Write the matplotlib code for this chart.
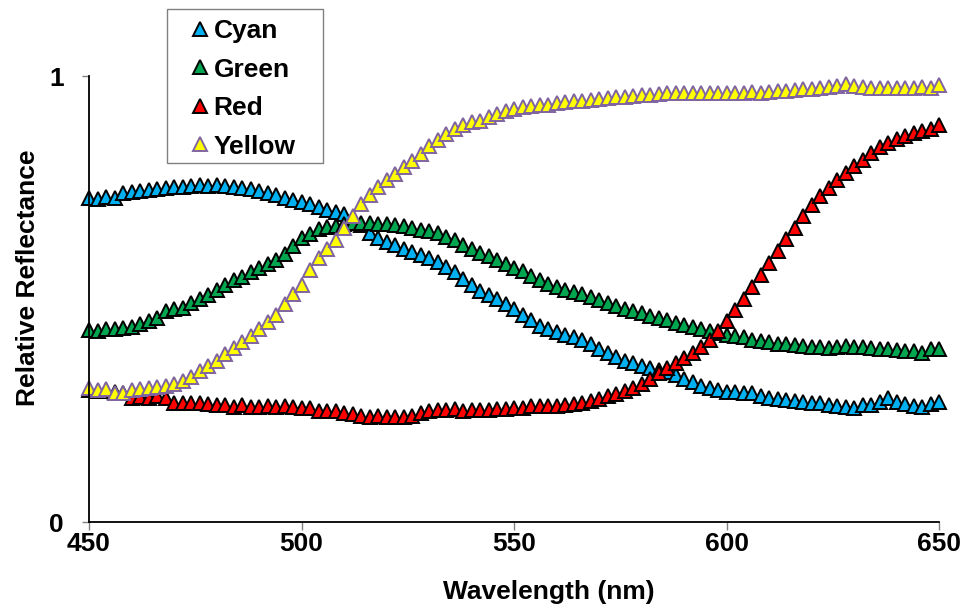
import numpy as np
from matplotlib import pyplot as plt
from matplotlib.patches import Rectangle

plt.rcParams['font.family'] = ['Liberation Sans', 'DejaVu Sans']
plt.rcParams['font.weight'] = 'bold'

# wavelength grid, one sample every 2 nm
wavelength = np.arange(450, 651, 2)

cyan = [
    0.726, 0.724, 0.728, 0.727, 0.737, 0.740, 0.742, 0.745, 0.747, 0.749,
    0.752, 0.752, 0.754, 0.756, 0.754, 0.755, 0.753, 0.752, 0.749, 0.746,
    0.742, 0.738, 0.733, 0.727, 0.722, 0.717, 0.712, 0.706, 0.700, 0.695,
    0.690, 0.678, 0.665, 0.648, 0.637, 0.628, 0.620, 0.612, 0.605, 0.598,
    0.592, 0.583, 0.572, 0.560, 0.545, 0.532, 0.517, 0.508, 0.499, 0.488,
    0.477, 0.465, 0.452, 0.440, 0.432, 0.425, 0.420, 0.415, 0.408, 0.398,
    0.388, 0.378, 0.370, 0.362, 0.356, 0.350, 0.346, 0.340, 0.336, 0.330,
    0.320, 0.313, 0.306, 0.300, 0.296, 0.292, 0.291, 0.290, 0.289, 0.283,
    0.278, 0.275, 0.274, 0.271, 0.269, 0.267, 0.266, 0.263, 0.260, 0.257,
    0.256, 0.262, 0.263, 0.268, 0.278, 0.270, 0.265, 0.260, 0.258, 0.265,
    0.269,
]
green = [
    0.430, 0.428, 0.432, 0.432, 0.435, 0.438, 0.444, 0.450, 0.458, 0.472,
    0.478, 0.480, 0.490, 0.500, 0.510, 0.520, 0.532, 0.542, 0.550, 0.560,
    0.570, 0.578, 0.588, 0.600, 0.618, 0.637, 0.646, 0.656, 0.661, 0.664,
    0.668, 0.670, 0.671, 0.670, 0.669, 0.668, 0.666, 0.663, 0.659, 0.655,
    0.652, 0.648, 0.640, 0.632, 0.622, 0.612, 0.603, 0.596, 0.587, 0.578,
    0.570, 0.562, 0.552, 0.542, 0.534, 0.528, 0.521, 0.516, 0.511, 0.505,
    0.498, 0.490, 0.484, 0.478, 0.473, 0.468, 0.462, 0.457, 0.452, 0.447,
    0.442, 0.438, 0.433, 0.428, 0.424, 0.419, 0.416, 0.414, 0.408, 0.405,
    0.403, 0.400, 0.398, 0.396, 0.394, 0.393, 0.392, 0.390, 0.393, 0.394,
    0.393, 0.392, 0.391, 0.389, 0.388, 0.385, 0.384, 0.383, 0.378, 0.387,
    0.388,
]
red = [
    0.296, 0.294, 0.293, 0.291, 0.289, 0.278, 0.280, 0.279, 0.282, 0.278,
    0.267, 0.266, 0.267, 0.266, 0.265, 0.262, 0.262, 0.258, 0.262, 0.257,
    0.258, 0.260, 0.257, 0.259, 0.258, 0.256, 0.255, 0.250, 0.248, 0.249,
    0.245, 0.243, 0.238, 0.236, 0.237, 0.236, 0.235, 0.236, 0.238, 0.244,
    0.250, 0.252, 0.251, 0.253, 0.250, 0.252, 0.252, 0.251, 0.254, 0.254,
    0.255, 0.256, 0.259, 0.259, 0.259, 0.261, 0.263, 0.265, 0.267, 0.272,
    0.276, 0.282, 0.287, 0.294, 0.300, 0.310, 0.321, 0.333, 0.345, 0.356,
    0.368, 0.380, 0.393, 0.408, 0.428, 0.450, 0.475, 0.500, 0.527, 0.553,
    0.580, 0.607, 0.634, 0.660, 0.686, 0.710, 0.730, 0.750, 0.766, 0.782,
    0.798, 0.812, 0.828, 0.840, 0.850, 0.858, 0.866, 0.872, 0.876, 0.882,
    0.890,
]
yellow = [
    0.300, 0.297, 0.298, 0.290, 0.289, 0.295, 0.298, 0.300, 0.303, 0.305,
    0.310, 0.316, 0.325, 0.338, 0.350, 0.362, 0.376, 0.390, 0.403, 0.418,
    0.432, 0.448, 0.465, 0.488, 0.512, 0.532, 0.565, 0.592, 0.612, 0.632,
    0.660, 0.686, 0.712, 0.733, 0.752, 0.766, 0.780, 0.795, 0.810, 0.826,
    0.842, 0.857, 0.870, 0.882, 0.890, 0.896, 0.900, 0.908, 0.915, 0.922,
    0.927, 0.930, 0.932, 0.934, 0.936, 0.939, 0.941, 0.943, 0.945, 0.946,
    0.948, 0.950, 0.952, 0.954, 0.955, 0.957, 0.958, 0.960, 0.961, 0.962,
    0.961, 0.961, 0.962, 0.963, 0.962, 0.963, 0.962, 0.963, 0.964, 0.962,
    0.964, 0.966, 0.967, 0.968, 0.970, 0.971, 0.972, 0.975, 0.978, 0.981,
    0.978, 0.975, 0.974, 0.972, 0.973, 0.974, 0.974, 0.973, 0.975, 0.972,
    0.980,
]

series = [
    ('Cyan', cyan, '#00B0F0', 'black'),
    ('Green', green, '#00A550', 'black'),
    ('Red', red, '#FF0000', 'black'),
    ('Yellow', yellow, '#FFFF00', '#8064A2'),
]

W, H = 966, 610
fig = plt.figure(figsize=(W / 100, H / 100), dpi=100)
ax = fig.add_axes([89 / W, 88 / H, 850 / W, 446 / H])

for name, vals, fc, ec in series:
    ax.plot(wavelength, vals, linestyle='none', marker='^', markersize=9.5,
            markerfacecolor=fc, markeredgecolor=ec, markeredgewidth=1.4,
            label=name, clip_on=False)

ax.set_xlim(450, 650)
ax.set_ylim(0, 1)
ax.set_xticks([450, 500, 550, 600, 650])
ax.set_yticks([0, 1])
ax.set_yticklabels(['0', '1'])
for s in ['top', 'right']:
    ax.spines[s].set_visible(False)
for s in ['left', 'bottom']:
    ax.spines[s].set_linewidth(1.3)
ax.tick_params(axis='x', direction='out', length=6, width=1, color='#808080',
               labelsize=19, pad=1)
ax.tick_params(axis='y', direction='out', length=5, width=1, color='#808080',
               labelsize=19, pad=13)

# axis titles placed where the original puts them
fig.text(549 / W, 1 - 592 / H, 'Wavelength (nm)', fontsize=19,
         fontweight='bold', ha='center', va='center')
fig.text(28 / W, 1 - 278 / H, 'Relative Reflectance', fontsize=19,
         fontweight='bold', ha='center', va='center', rotation=90)

# legend box drawn separately so the padding can differ per side
fig.patches.append(Rectangle((167 / W, 1 - 163 / H), 156 / W, 154 / H,
                             transform=fig.transFigure, facecolor='white',
                             edgecolor='#808080', linewidth=1.0, zorder=3))
handles, labels = ax.get_legend_handles_labels()
leg = fig.legend(handles, labels, loc='upper left',
                 bbox_to_anchor=(187 / W, 1 - 19 / H),
                 bbox_transform=fig.transFigure, borderaxespad=0, borderpad=0,
                 numpoints=1, fontsize=19, handlelength=1.0, handletextpad=0.0,
                 labelspacing=0.55, frameon=False)
leg.set_zorder(6)
for t in leg.get_texts():
    t.set_fontweight('bold')

plt.savefig('out.png', dpi=100)
plt.close()
